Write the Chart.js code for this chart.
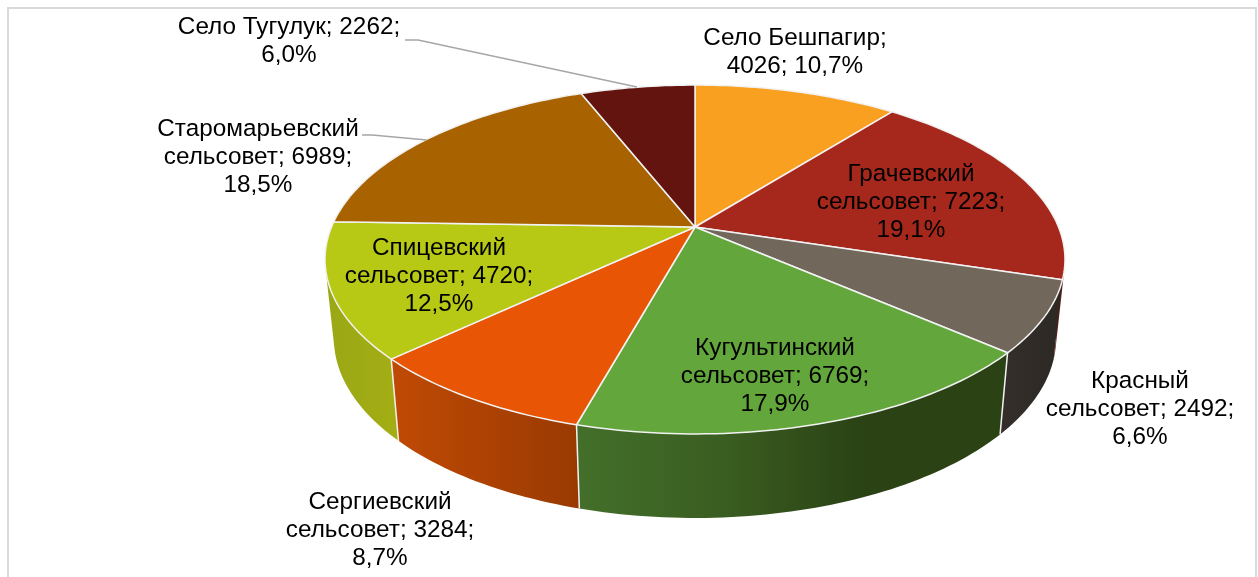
<!DOCTYPE html>
<html>
<head>
<meta charset="utf-8">
<style>
  html, body { margin: 0; padding: 0; background: #fff; overflow: hidden; }
  #wrap { position: relative; width: 1258px; height: 577px; }
  #frame { position: absolute; left: 7px; top: 7px; width: 1246px; height: 570px; border: 2px solid #d9d9d9; border-bottom: none; }
  canvas { position: absolute; left: 0; top: 0; }
</style>
<script src="https://cdn.jsdelivr.net/npm/chart.js@4/dist/chart.umd.min.js"></script>
</head>
<body>
<div id="wrap">
  <div id="frame"></div>
  <canvas id="myChart" width="1258" height="577"></canvas>
</div>
<script>
const names = [
  'Село Бешпагир',
  'Грачевский сельсовет',
  'Красный сельсовет',
  'Кугультинский сельсовет',
  'Сергиевский сельсовет',
  'Спицевский сельсовет',
  'Старомарьевский сельсовет',
  'Село Тугулук',
];
const values = [4026, 7223, 2492, 6769, 3284, 4720, 6989, 2262];
const topColors = ['#faa021', '#a6281c', '#71675a', '#62a63c', '#e85504', '#b7c915', '#a86300', '#63140f'];
const wallColors = [
  ['#c47d18', '#c47d18'],
  ['#6e1a12', '#6e1a12'],
  ['#332e29', '#2c2824'],
  ['#436f2a', '#3a5e21', '#2a4214', '#2a4214'],
  ['#c04a04', '#9a3a02'],
  ['#9aa816', '#a3ad14'],
  ['#7a4800', '#7a4800'],
  ['#400d0a', '#400d0a'],
];

// label anchors, same order as names
const labelSpots = [
  { x: 795, y: 38 },
  { x: 911, y: 174 },
  { x: 1140, y: 381 },
  { x: 775, y: 348 },
  { x: 380, y: 502 },
  { x: 439, y: 248 },
  { x: 258, y: 129 },
  { x: 289, y: 27, wrap: 230 },
];
const leaders = [
  [[405, 40], [418, 40], [637, 87]],
  [[362, 135], [372, 135], [427, 140]],
];

const total = values.reduce((a, b) => a + b, 0);

// the tilted disc, seen in perspective
const top3d = { cx: 695, cy: 227, a: 363.5, b: 168.4, p: 0.1862 };
const bottom3d = { cx: 695, cy: 304.8, a: 354.8, b: 173.5, p: 0.1862 };

function project(disc, angle) {
  const u = Math.cos(angle);
  const v = Math.sin(angle);
  const d = 1 - disc.p * v;
  return [disc.cx + (disc.a * u) / d, disc.cy + (disc.b * v) / d];
}

function rimAngles(start, end) {
  const steps = Math.max(4, Math.ceil((end - start) / 0.02));
  const out = [];
  for (let i = 0; i <= steps; i++) out.push(start + ((end - start) * i) / steps);
  return out;
}

function drawWall(ctx, arc, stops) {
  const angles = rimAngles(arc.startAngle, arc.endAngle);
  const xs = angles.map((t) => project(top3d, t)[0]);
  const grad = ctx.createLinearGradient(Math.min(...xs), 0, Math.max(...xs), 0);
  stops.forEach((c, i) => grad.addColorStop(i / (stops.length - 1), c));
  ctx.fillStyle = grad;
  // all quads wound the same way so one fill covers them without seams
  ctx.beginPath();
  for (let i = 0; i < angles.length - 1; i++) {
    const quad = [
      project(top3d, angles[i]),
      project(top3d, angles[i + 1]),
      project(bottom3d, angles[i + 1]),
      project(bottom3d, angles[i]),
    ];
    let area = 0;
    quad.forEach((pt, n) => {
      const next = quad[(n + 1) % 4];
      area += pt[0] * next[1] - next[0] * pt[1];
    });
    if (area < 0) quad.reverse();
    quad.forEach((pt, n) => (n ? ctx.lineTo(pt[0], pt[1]) : ctx.moveTo(pt[0], pt[1])));
    ctx.closePath();
  }
  ctx.fill();
}

function wrapText(ctx, text, width) {
  const lines = [];
  let line = '';
  text.split(' ').forEach((word) => {
    const next = line ? line + ' ' + word : word;
    if (line && ctx.measureText(next).width > width) {
      lines.push(line);
      line = word;
    } else {
      line = next;
    }
  });
  lines.push(line);
  return lines;
}

const pie3d = {
  id: 'pie3d',
  beforeDatasetsDraw(chart) {
    const ctx = chart.ctx;
    const arcs = chart.getDatasetMeta(0).data;
    ctx.save();
    ctx.lineJoin = 'round';

    arcs.forEach((arc, i) => drawWall(ctx, arc, wallColors[i]));

    // seams between the side walls, only on the front of the pie
    ctx.strokeStyle = '#f2f2f2';
    ctx.lineWidth = 1.5;
    arcs.forEach((arc) => {
      if (Math.sin(arc.startAngle) < 0.5) return;
      const a = project(top3d, arc.startAngle);
      const b = project(bottom3d, arc.startAngle);
      ctx.beginPath();
      ctx.moveTo(a[0], a[1]);
      ctx.lineTo(b[0], b[1]);
      ctx.stroke();
    });

    arcs.forEach((arc) => {
      ctx.beginPath();
      ctx.moveTo(top3d.cx, top3d.cy);
      rimAngles(arc.startAngle, arc.endAngle).forEach((t) => {
        const pt = project(top3d, t);
        ctx.lineTo(pt[0], pt[1]);
      });
      ctx.closePath();
      ctx.fillStyle = arc.options.backgroundColor;
      ctx.fill();
      ctx.strokeStyle = '#f2f2f2';
      ctx.lineWidth = 1.5;
      ctx.stroke();
    });
    ctx.restore();
    return false;
  },
  afterDraw(chart) {
    const ctx = chart.ctx;
    ctx.save();
    ctx.strokeStyle = '#a6a6a6';
    ctx.lineWidth = 1.3;
    leaders.forEach((pts) => {
      ctx.beginPath();
      pts.forEach((pt, i) => (i ? ctx.lineTo(pt[0], pt[1]) : ctx.moveTo(pt[0], pt[1])));
      ctx.stroke();
    });

    ctx.font = '24.3px "Liberation Sans", Arial, sans-serif';
    ctx.fillStyle = '#000';
    ctx.textAlign = 'center';
    ctx.textBaseline = 'middle';
    names.forEach((name, i) => {
      const pct = ((values[i] / total) * 100).toFixed(1).replace('.', ',') + '%';
      const text = `${name}; ${values[i]}; ${pct}`;
      const spot = labelSpots[i];
      wrapText(ctx, text, spot.wrap || 205).forEach((line, n) => {
        ctx.fillText(line, spot.x, spot.y + 0.5 + n * 28);
      });
    });
    ctx.restore();
  },
};

new Chart(document.getElementById('myChart').getContext('2d'), {
  type: 'pie',
  data: {
    labels: names,
    datasets: [{ data: values, backgroundColor: topColors }],
  },
  options: {
    responsive: false,
    animation: false,
    events: [],
    plugins: {
      legend: { display: false },
      tooltip: { enabled: false },
    },
  },
  plugins: [pie3d],
});
</script>
</body>
</html>
